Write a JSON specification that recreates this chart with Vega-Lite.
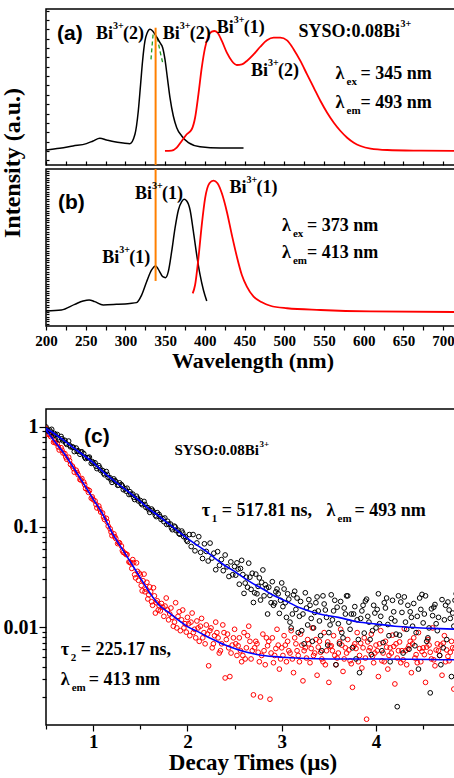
{
"$schema": "https://vega.github.io/schema/vega-lite/v6.json",
"padding": {"left": 0, "top": 8, "right": -2, "bottom": 0},
"background": "white",
"config": {
  "view": {"stroke": "black", "strokeWidth": 1.5},
  "axis": {"grid": false, "domain": false, "tickColor": "black", "tickWidth": 1.2, "labelColor": "black", "titleColor": "black", "labelFont": "Liberation Serif", "labelFontWeight": "bold", "titleFont": "Liberation Serif", "titleFontWeight": "bold", "labelOverlap": false, "labelFlush": false, "labelBound": false}
},
"datasets": {
"aEx": [{"x":200,"y":9.6},{"x":217.2,"y":10.7},{"x":234.1,"y":12.2},{"x":250.9,"y":13.7},{"x":259.3,"y":15.4},{"x":267.8,"y":17.1},{"x":276.2,"y":16},{"x":284.6,"y":15},{"x":297.2,"y":14.1},{"x":305.6,"y":13.7},{"x":312,"y":19.7},{"x":316.2,"y":34.6},{"x":319.1,"y":51.7},{"x":321.6,"y":66.7},{"x":324.6,"y":79.5},{"x":327.5,"y":84.8},{"x":330.9,"y":87},{"x":334.3,"y":85.9},{"x":338.5,"y":82.7},{"x":343.5,"y":78.4},{"x":346.9,"y":75.2},{"x":349.8,"y":67.7},{"x":352.8,"y":56},{"x":356.1,"y":43.2},{"x":360.3,"y":31.4},{"x":364.6,"y":23.9},{"x":370.9,"y":18.6},{"x":379.3,"y":14.3},{"x":394,"y":11.7},{"x":419.3,"y":10.9},{"x":448.7,"y":10.9}],
"aEm": [{"x":349.8,"y":9},{"x":358.2,"y":9.2},{"x":364.6,"y":11.1},{"x":370.9,"y":15.4},{"x":377.2,"y":19.7},{"x":383.5,"y":22.9},{"x":387.7,"y":30.3},{"x":391.9,"y":45.3},{"x":396.1,"y":62.4},{"x":400.3,"y":75.2},{"x":404.5,"y":82.7},{"x":408.7,"y":85.5},{"x":412.1,"y":85.9},{"x":415.9,"y":84.8},{"x":421.4,"y":79.5},{"x":427.7,"y":72},{"x":434,"y":66.7},{"x":440.3,"y":64.1},{"x":446.6,"y":64.5},{"x":452.9,"y":66.7},{"x":461.4,"y":70.9},{"x":469.8,"y":75.8},{"x":478.2,"y":79.9},{"x":486.6,"y":81.6},{"x":495,"y":81.6},{"x":503.5,"y":79.9},{"x":511.9,"y":74.1},{"x":520.3,"y":66.7},{"x":528.7,"y":58.1},{"x":537.1,"y":49.6},{"x":545.6,"y":41},{"x":554,"y":33.5},{"x":562.4,"y":27.1},{"x":570.8,"y":21.8},{"x":579.2,"y":17.5},{"x":587.6,"y":14.3},{"x":596,"y":12.2},{"x":608.6,"y":10.5},{"x":629.7,"y":9.6},{"x":671.7,"y":9.2},{"x":720,"y":9}],
"aG": [{"x":332.2,"y":67.7,"s":"g1"},{"x":333.5,"y":76,"s":"g1"},{"x":335,"y":84.8,"s":"g1"},{"x":340.2,"y":81.6,"s":"g2"},{"x":343.5,"y":73,"s":"g2"},{"x":346.9,"y":65.6,"s":"g2"}],
"aR": [{"x":338,"y":88,"y2":0}],
"bR": [{"x":338,"y":100,"y2":28.7}],
"bEx": [{"x":200,"y":9.55},{"x":219.4,"y":10.2},{"x":236.2,"y":13.8},{"x":246.7,"y":15.9},{"x":254.3,"y":16.6},{"x":261.4,"y":15.5},{"x":272,"y":13.4},{"x":288.8,"y":13.8},{"x":305.6,"y":14.4},{"x":314,"y":14.9},{"x":320.4,"y":19.7},{"x":326.7,"y":28.2},{"x":333,"y":35.7},{"x":338,"y":38.2},{"x":342.7,"y":35},{"x":346.9,"y":31.4},{"x":350.6,"y":30.8},{"x":354,"y":34.6},{"x":358.2,"y":47.3},{"x":362.4,"y":62.2},{"x":366.7,"y":73.9},{"x":370.9,"y":79.2},{"x":373.8,"y":80.7},{"x":377.2,"y":79.6},{"x":381.4,"y":73.9},{"x":385.6,"y":60.1},{"x":389.8,"y":45.2},{"x":394,"y":32.5},{"x":398.2,"y":22.9},{"x":402.4,"y":15.9}],
"bEm": [{"x":384.7,"y":20.8},{"x":387.7,"y":26.1},{"x":391.9,"y":43.1},{"x":396.1,"y":64.3},{"x":400.3,"y":81.3},{"x":405.8,"y":90.9},{"x":410.8,"y":92.6},{"x":415.9,"y":90.9},{"x":421.4,"y":84.5},{"x":427.7,"y":72.8},{"x":434,"y":58},{"x":440.3,"y":44.2},{"x":446.6,"y":32.5},{"x":452.9,"y":25.1},{"x":461.4,"y":18.7},{"x":471.9,"y":15.1},{"x":482.4,"y":12.9},{"x":503.5,"y":11.3},{"x":545.6,"y":10.2},{"x":608.6,"y":9.3},{"x":720,"y":8.9}],
"aT": [{"k":"p","x":214,"y":80,"a":"(a)"},{"k":"bi","x":263,"y":80.8,"a":"Bi","b":"3+","c":"(2)"},{"k":"bi","x":347,"y":80.6,"a":"Bi","b":"3+","c":"(2)"},{"k":"bi","x":415,"y":84.4,"a":"Bi","b":"3+","c":"(1)"},{"k":"bi","x":458,"y":57,"a":"Bi","b":"3+","c":"(2)"},{"k":"sy","x":518,"y":82,"a":"SYSO:0.08Bi","b":"3+"},{"k":"la","x":564.5,"y":54.9,"a":"λ","b":"ex","c":"= 345 nm"},{"k":"la","x":564.5,"y":36.7,"a":"λ","b":"em","c":"= 493 nm"}],
"bT": [{"k":"p","x":215,"y":74.3,"a":"(b)"},{"k":"bi","x":312,"y":80.9,"a":"Bi","b":"3+","c":"(1)"},{"k":"bi","x":270.7,"y":40.1,"a":"Bi","b":"3+","c":"(1)"},{"k":"bi","x":431,"y":84.7,"a":"Bi","b":"3+","c":"(1)"},{"k":"la","x":497,"y":60.5,"a":"λ","b":"ex","c":"= 373 nm"},{"k":"la","x":497,"y":43.3,"a":"λ","b":"em","c":"= 413 nm"}],
"cT": [{"k":"p","x":0.904,"y":0.687,"a":"(c)"},{"k":"sy","x":1.862,"y":0.525,"a":"SYSO:0.08Bi","b":"3+"},{"k":"ta","x":2.152,"y":0.1288,"a":"τ","b":"1","c":"= 517.81 ns,"},{"k":"la","x":3.475,"y":0.1288,"a":"λ","b":"em","c":"= 493 nm"},{"k":"ta","x":0.656,"y":0.00525,"a":"τ","b":"2","c":"= 225.17 ns,"},{"k":"la","x":0.656,"y":0.00263,"a":"λ","b":"em","c":"= 413 nm"}],
"cFit": [{"s":"b","x":0.5,"y":0.97},{"s":"b","x":0.6,"y":0.84},{"s":"b","x":0.7,"y":0.72},{"s":"b","x":0.8,"y":0.61},{"s":"b","x":0.9,"y":0.52},{"s":"b","x":1.0,"y":0.44},{"s":"b","x":1.1,"y":0.36},{"s":"b","x":1.2,"y":0.3},{"s":"b","x":1.3,"y":0.255},{"s":"b","x":1.4,"y":0.215},{"s":"b","x":1.5,"y":0.18},{"s":"b","x":1.6,"y":0.15},{"s":"b","x":1.7,"y":0.128},{"s":"b","x":1.8,"y":0.108},{"s":"b","x":1.9,"y":0.091},{"s":"b","x":2.0,"y":0.077},{"s":"b","x":2.1,"y":0.066},{"s":"b","x":2.2,"y":0.057},{"s":"b","x":2.3,"y":0.048},{"s":"b","x":2.4,"y":0.041},{"s":"b","x":2.5,"y":0.036},{"s":"b","x":2.6,"y":0.031},{"s":"b","x":2.7,"y":0.027},{"s":"b","x":2.8,"y":0.024},{"s":"b","x":2.9,"y":0.021},{"s":"b","x":3.0,"y":0.019},{"s":"b","x":3.2,"y":0.0155},{"s":"b","x":3.4,"y":0.0135},{"s":"b","x":3.6,"y":0.0125},{"s":"b","x":3.8,"y":0.0113},{"s":"b","x":4.0,"y":0.0107},{"s":"b","x":4.2,"y":0.0102},{"s":"b","x":4.4,"y":0.0099},{"s":"b","x":4.6,"y":0.0097},{"s":"b","x":4.88,"y":0.0095},
{"s":"r","x":0.5,"y":0.93},{"s":"r","x":0.6,"y":0.7},{"s":"r","x":0.7,"y":0.53},{"s":"r","x":0.8,"y":0.38},{"s":"r","x":0.9,"y":0.27},{"s":"r","x":1.0,"y":0.19},{"s":"r","x":1.1,"y":0.135},{"s":"r","x":1.2,"y":0.088},{"s":"r","x":1.3,"y":0.062},{"s":"r","x":1.4,"y":0.044},{"s":"r","x":1.5,"y":0.031},{"s":"r","x":1.6,"y":0.022},{"s":"r","x":1.7,"y":0.0165},{"s":"r","x":1.8,"y":0.014},{"s":"r","x":1.9,"y":0.0118},{"s":"r","x":2.0,"y":0.0101},{"s":"r","x":2.1,"y":0.0091},{"s":"r","x":2.2,"y":0.0081},{"s":"r","x":2.3,"y":0.0073},{"s":"r","x":2.4,"y":0.0066},{"s":"r","x":2.5,"y":0.0061},{"s":"r","x":2.6,"y":0.0057},{"s":"r","x":2.7,"y":0.0054},{"s":"r","x":2.8,"y":0.0052},{"s":"r","x":3.0,"y":0.005},{"s":"r","x":3.5,"y":0.0048},{"s":"r","x":4.0,"y":0.0048},{"s":"r","x":4.88,"y":0.0047}],
"cB": [{"x":0.5,"y":1.0},{"x":0.52,"y":0.907},{"x":0.54,"y":0.929},{"x":0.56,"y":0.946},{"x":0.58,"y":0.822},{"x":0.6,"y":0.832},{"x":0.62,"y":0.839},{"x":0.64,"y":0.743},{"x":0.66,"y":0.803},{"x":0.68,"y":0.727},{"x":0.7,"y":0.734},{"x":0.72,"y":0.669},{"x":0.74,"y":0.722},{"x":0.76,"y":0.632},{"x":0.78,"y":0.63},{"x":0.8,"y":0.567},{"x":0.82,"y":0.614},{"x":0.84,"y":0.578},{"x":0.86,"y":0.533},{"x":0.88,"y":0.564},{"x":0.9,"y":0.541},{"x":0.92,"y":0.483},{"x":0.94,"y":0.492},{"x":0.96,"y":0.499},{"x":0.98,"y":0.432},{"x":1.0,"y":0.436},{"x":1.02,"y":0.438},{"x":1.04,"y":0.383},{"x":1.06,"y":0.41},{"x":1.08,"y":0.368},{"x":1.1,"y":0.367},{"x":1.12,"y":0.333},{"x":1.14,"y":0.358},{"x":1.16,"y":0.312},{"x":1.18,"y":0.31},{"x":1.2,"y":0.279},{"x":1.22,"y":0.302},{"x":1.24,"y":0.284},{"x":1.26,"y":0.261},{"x":1.28,"y":0.276},{"x":1.3,"y":0.265},{"x":1.32,"y":0.236},{"x":1.34,"y":0.24},{"x":1.36,"y":0.244},{"x":1.38,"y":0.211},{"x":1.4,"y":0.213},{"x":1.42,"y":0.213},{"x":1.44,"y":0.188},{"x":1.46,"y":0.203},{"x":1.48,"y":0.182},{"x":1.5,"y":0.184},{"x":1.52,"y":0.167},{"x":1.54,"y":0.18},{"x":1.56,"y":0.157},{"x":1.58,"y":0.156},{"x":1.6,"y":0.14},{"x":1.62,"y":0.151},{"x":1.64,"y":0.141},{"x":1.66,"y":0.131},{"x":1.68,"y":0.139},{"x":1.7,"y":0.133},{"x":1.72,"y":0.119},{"x":1.74,"y":0.121},{"x":1.76,"y":0.123},{"x":1.78,"y":0.106},{"x":1.8,"y":0.107},{"x":1.82,"y":0.107},{"x":1.84,"y":0.094},{"x":1.86,"y":0.102},{"x":1.88,"y":0.092},{"x":1.9,"y":0.093},{"x":1.92,"y":0.0845},{"x":1.94,"y":0.091},{"x":1.96,"y":0.08},{"x":1.98,"y":0.08},{"x":2.0,"y":0.0716},{"x":2.02,"y":0.084},{"x":2.04,"y":0.0638},{"x":2.06,"y":0.084},{"x":2.08,"y":0.0578},{"x":2.1,"y":0.0693},{"x":2.12,"y":0.08},{"x":2.14,"y":0.0558},{"x":2.16,"y":0.0484},{"x":2.18,"y":0.0679},{"x":2.2,"y":0.057},{"x":2.22,"y":0.0457},{"x":2.24,"y":0.069},{"x":2.26,"y":0.0489},{"x":2.28,"y":0.0547},{"x":2.3,"y":0.0374},{"x":2.32,"y":0.0567},{"x":2.34,"y":0.0414},{"x":2.36,"y":0.0472},{"x":2.38,"y":0.0366},{"x":2.4,"y":0.0525},{"x":2.42,"y":0.04},{"x":2.44,"y":0.032},{"x":2.46,"y":0.0448},{"x":2.48,"y":0.0333},{"x":2.5,"y":0.0403},
{"x":0.51,"y":0.93},{"x":0.55,"y":0.89},{"x":0.59,"y":0.86},{"x":0.63,"y":0.78},{"x":0.67,"y":0.76},{"x":0.71,"y":0.69},{"x":0.75,"y":0.655},{"x":0.79,"y":0.625},{"x":0.83,"y":0.57},{"x":0.87,"y":0.56},{"x":0.91,"y":0.5},{"x":0.95,"y":0.49},{"x":0.99,"y":0.45},{"x":1.03,"y":0.405},{"x":1.07,"y":0.39},{"x":1.11,"y":0.345},{"x":1.15,"y":0.335},{"x":1.19,"y":0.296},{"x":1.23,"y":0.29},{"x":1.27,"y":0.262},{"x":1.31,"y":0.256},{"x":1.35,"y":0.228},{"x":1.39,"y":0.225},{"x":1.43,"y":0.198},{"x":1.47,"y":0.193},{"x":1.51,"y":0.172},{"x":1.55,"y":0.168},{"x":1.59,"y":0.149},{"x":1.63,"y":0.146},{"x":1.67,"y":0.127},{"x":1.71,"y":0.127},{"x":1.75,"y":0.113},{"x":1.79,"y":0.114},{"x":1.83,"y":0.098},{"x":1.87,"y":0.1},{"x":1.91,"y":0.086},{"x":1.95,"y":0.087},{"x":1.99,"y":0.074},
{"x":2.525,"y":0.0438},{"x":2.55,"y":0.0268},{"x":2.575,"y":0.0464},{"x":2.6,"y":0.0217},{"x":2.625,"y":0.0315},{"x":2.65,"y":0.0435},{"x":2.675,"y":0.0238},{"x":2.7,"y":0.0176},{"x":2.725,"y":0.0338},{"x":2.75,"y":0.0255},{"x":2.775,"y":0.0186},{"x":2.8,"y":0.0372},{"x":2.825,"y":0.0265},{"x":2.85,"y":0.0135},{"x":2.875,"y":0.0207},{"x":2.9,"y":0.0284},{"x":2.925,"y":0.0174},{"x":2.95,"y":0.024},{"x":2.975,"y":0.0137},{"x":3.0,"y":0.0276},
{"x":2.5125,"y":0.033},{"x":2.5625,"y":0.0385},{"x":2.6125,"y":0.0275},{"x":2.6625,"y":0.0315},{"x":2.7125,"y":0.022},{"x":2.7625,"y":0.031},{"x":2.8125,"y":0.0205},{"x":2.8625,"y":0.025},{"x":2.9125,"y":0.0165},{"x":2.9625,"y":0.0215},
{"x":2.5375,"y":0.038},{"x":2.5875,"y":0.0335},{"x":2.6375,"y":0.025},{"x":2.6875,"y":0.0345},{"x":2.7375,"y":0.0215},{"x":2.7875,"y":0.028},{"x":2.8375,"y":0.0245},{"x":2.8875,"y":0.0175},{"x":2.9375,"y":0.0225},{"x":2.9875,"y":0.0185},
{"x":3.025,"y":0.024},{"x":3.05,"y":0.0125},{"x":3.075,"y":0.019},{"x":3.1,"y":0.0098},{"x":3.125,"y":0.021},{"x":3.15,"y":0.015},{"x":3.175,"y":0.0088},{"x":3.2,"y":0.018},{"x":3.225,"y":0.0135},{"x":3.25,"y":0.022},{"x":3.275,"y":0.0105},{"x":3.3,"y":0.0165},{"x":3.325,"y":0.0072},{"x":3.35,"y":0.014},{"x":3.375,"y":0.02},{"x":3.4,"y":0.0115},{"x":3.425,"y":0.0058},{"x":3.45,"y":0.017},{"x":3.475,"y":0.0125},{"x":3.5,"y":0.0088},{"x":3.525,"y":0.021},{"x":3.55,"y":0.0145},{"x":3.575,"y":0.0042},{"x":3.6,"y":0.0108},{"x":3.625,"y":0.018},{"x":3.65,"y":0.0078},{"x":3.675,"y":0.0135},{"x":3.7,"y":0.0205},{"x":3.725,"y":0.0095},{"x":3.75,"y":0.0062},{"x":3.775,"y":0.016},{"x":3.8,"y":0.0118},{"x":3.825,"y":0.0035},{"x":3.85,"y":0.0145},{"x":3.875,"y":0.0087},{"x":3.9,"y":0.019},{"x":3.925,"y":0.0112},{"x":3.95,"y":0.0053},{"x":3.975,"y":0.0165},{"x":4.0,"y":0.0098},{"x":4.025,"y":0.0215},{"x":4.05,"y":0.0128},{"x":4.075,"y":0.007},{"x":4.1,"y":0.0155},{"x":4.125,"y":0.0106},{"x":4.15,"y":0.0045},{"x":4.175,"y":0.0185},{"x":4.2,"y":0.0115},{"x":4.225,"y":0.0016},{"x":4.25,"y":0.0083},{"x":4.275,"y":0.014},{"x":4.3,"y":0.02},{"x":4.325,"y":0.0095},{"x":4.35,"y":0.006},{"x":4.375,"y":0.0125},{"x":4.4,"y":0.0172},{"x":4.425,"y":0.0088},{"x":4.45,"y":0.0038},{"x":4.475,"y":0.015},{"x":4.5,"y":0.011},{"x":4.525,"y":0.0205},{"x":4.55,"y":0.0078},{"x":4.575,"y":0.0022},{"x":4.6,"y":0.013},{"x":4.625,"y":0.0168},{"x":4.65,"y":0.0092},{"x":4.675,"y":0.0052},{"x":4.7,"y":0.0188},{"x":4.725,"y":0.0118},{"x":4.75,"y":0.0075},{"x":4.775,"y":0.0148},{"x":4.8,"y":0.0032},{"x":4.825,"y":0.0102},{"x":4.85,"y":0.0215},{"x":4.875,"y":0.0085},
{"x":3.0125,"y":0.016},{"x":3.0625,"y":0.0215},{"x":3.1125,"y":0.0135},{"x":3.1625,"y":0.0195},{"x":3.2125,"y":0.0092},{"x":3.2625,"y":0.0155},{"x":3.3125,"y":0.0122},{"x":3.3625,"y":0.0175},{"x":3.4125,"y":0.0082},{"x":3.4625,"y":0.0148},{"x":3.5125,"y":0.0105},{"x":3.5625,"y":0.0185},{"x":3.6125,"y":0.0068},{"x":3.6625,"y":0.0155},{"x":3.7125,"y":0.0112},{"x":3.7625,"y":0.0135},{"x":3.8125,"y":0.0075},{"x":3.8625,"y":0.0165},{"x":3.9125,"y":0.0128},{"x":3.9625,"y":0.0092},{"x":4.0125,"y":0.015},{"x":4.0625,"y":0.0058},{"x":4.1125,"y":0.0195},{"x":4.1625,"y":0.0122},{"x":4.2125,"y":0.0085},{"x":4.2625,"y":0.0178},{"x":4.3125,"y":0.0112},{"x":4.3625,"y":0.0142},{"x":4.4125,"y":0.0065},{"x":4.4625,"y":0.0195},{"x":4.5125,"y":0.0135},{"x":4.5625,"y":0.0098},{"x":4.6125,"y":0.0158},{"x":4.6625,"y":0.0125},{"x":4.7125,"y":0.0062},{"x":4.7625,"y":0.0178},{"x":4.8125,"y":0.0138},{"x":4.8625,"y":0.0118},
{"x":3.0375,"y":0.0175},{"x":3.0875,"y":0.0112},{"x":3.1375,"y":0.0228},{"x":3.1875,"y":0.0128},{"x":3.2375,"y":0.0068},{"x":3.2875,"y":0.0188},{"x":3.3375,"y":0.0098},{"x":3.3875,"y":0.0145},{"x":3.4375,"y":0.0205},{"x":3.4875,"y":0.0066},{"x":3.5375,"y":0.0118},{"x":3.5875,"y":0.0158},{"x":3.6375,"y":0.0088},{"x":3.6875,"y":0.0205},{"x":3.7375,"y":0.0135},{"x":3.7875,"y":0.0048},{"x":3.8375,"y":0.0122},{"x":3.8875,"y":0.0182},{"x":3.9375,"y":0.0075},{"x":3.9875,"y":0.0138},{"x":4.0375,"y":0.0108},{"x":4.0875,"y":0.0175},{"x":4.1375,"y":0.0082},{"x":4.1875,"y":0.0142},{"x":4.2375,"y":0.0205},{"x":4.2875,"y":0.0055},{"x":4.3375,"y":0.0165},{"x":4.3875,"y":0.0102},{"x":4.4375,"y":0.0128},{"x":4.4875,"y":0.0212},{"x":4.5375,"y":0.0072},{"x":4.5875,"y":0.0152},{"x":4.6375,"y":0.0108},{"x":4.6875,"y":0.0042},{"x":4.7375,"y":0.0165},{"x":4.7875,"y":0.0122},{"x":4.8375,"y":0.0185},{"x":4.8675,"y":0.0072}],
"cR": [{"x":0.5,"y":0.967},{"x":0.52,"y":0.845},{"x":0.54,"y":0.838},{"x":0.56,"y":0.832},{"x":0.58,"y":0.703},{"x":0.6,"y":0.693},{"x":0.62,"y":0.68},{"x":0.64,"y":0.588},{"x":0.66,"y":0.62},{"x":0.68,"y":0.549},{"x":0.7,"y":0.541},{"x":0.72,"y":0.475},{"x":0.74,"y":0.498},{"x":0.76,"y":0.422},{"x":0.78,"y":0.405},{"x":0.8,"y":0.353},{"x":0.82,"y":0.369},{"x":0.84,"y":0.333},{"x":0.86,"y":0.298},{"x":0.88,"y":0.305},{"x":0.9,"y":0.281},{"x":0.92,"y":0.242},{"x":0.94,"y":0.237},{"x":0.96,"y":0.231},{"x":0.98,"y":0.194},{"x":1.0,"y":0.188},{"x":1.02,"y":0.182},{"x":1.04,"y":0.155},{"x":1.06,"y":0.162},{"x":1.08,"y":0.141},{"x":1.1,"y":0.138},{"x":1.12,"y":0.119},{"x":1.14,"y":0.122},{"x":1.16,"y":0.102},{"x":1.18,"y":0.096},{"x":1.2,"y":0.0818},{"x":1.22,"y":0.0853},{"x":1.24,"y":0.0768},{"x":1.26,"y":0.0682},{"x":1.28,"y":0.0693},{"x":1.3,"y":0.0645},{"x":1.32,"y":0.0557},{"x":1.34,"y":0.0545},{"x":1.36,"y":0.053},{"x":1.38,"y":0.0447},{"x":1.4,"y":0.0436},
{"x":1.42,"y":0.0472},{"x":1.44,"y":0.0334},{"x":1.46,"y":0.0438},{"x":1.48,"y":0.0293},{"x":1.5,"y":0.033},{"x":1.52,"y":0.023},{"x":1.54,"y":0.0338},{"x":1.56,"y":0.024},{"x":1.58,"y":0.0191},{"x":1.6,"y":0.0252},{"x":1.62,"y":0.0179},{"x":1.64,"y":0.0247},{"x":1.66,"y":0.0138},{"x":1.68,"y":0.0183},{"x":1.7,"y":0.0163},
{"x":0.51,"y":0.9},{"x":0.55,"y":0.8},{"x":0.59,"y":0.725},{"x":0.63,"y":0.63},{"x":0.67,"y":0.585},{"x":0.71,"y":0.5},{"x":0.75,"y":0.46},{"x":0.79,"y":0.385},{"x":0.83,"y":0.35},{"x":0.87,"y":0.295},{"x":0.91,"y":0.265},{"x":0.95,"y":0.222},{"x":0.99,"y":0.2},{"x":1.03,"y":0.168},{"x":1.07,"y":0.151},{"x":1.11,"y":0.126},{"x":1.15,"y":0.112},{"x":1.19,"y":0.089},{"x":1.23,"y":0.08},{"x":1.27,"y":0.07},{"x":1.31,"y":0.058},{"x":1.35,"y":0.053},{"x":1.39,"y":0.0445},
{"x":1.41,"y":0.0385},{"x":1.43,"y":0.044},{"x":1.45,"y":0.031},{"x":1.47,"y":0.036},{"x":1.49,"y":0.0345},{"x":1.51,"y":0.026},{"x":1.53,"y":0.029},{"x":1.55,"y":0.0225},{"x":1.57,"y":0.028},{"x":1.59,"y":0.021},{"x":1.61,"y":0.0225},{"x":1.63,"y":0.0165},{"x":1.65,"y":0.0205},{"x":1.67,"y":0.0175},{"x":1.69,"y":0.0148},
{"x":1.725,"y":0.0172},{"x":1.75,"y":0.0128},{"x":1.775,"y":0.0195},{"x":1.8,"y":0.0118},{"x":1.825,"y":0.0155},{"x":1.85,"y":0.0102},{"x":1.875,"y":0.0175},{"x":1.9,"y":0.0128},{"x":1.925,"y":0.0092},{"x":1.95,"y":0.0148},{"x":1.975,"y":0.0108},{"x":2.0,"y":0.0125},{"x":2.025,"y":0.0082},{"x":2.05,"y":0.0138},{"x":2.075,"y":0.0095},{"x":2.1,"y":0.0115},{"x":2.125,"y":0.0072},{"x":2.15,"y":0.0122},{"x":2.175,"y":0.0088},{"x":2.2,"y":0.0105},{"x":2.225,"y":0.0041},{"x":2.25,"y":0.0098},{"x":2.275,"y":0.0068},{"x":2.3,"y":0.0112},{"x":2.325,"y":0.0078},{"x":2.35,"y":0.0058},{"x":2.375,"y":0.0105},{"x":2.4,"y":0.0031},{"x":2.425,"y":0.0085},{"x":2.45,"y":0.0032},{"x":2.475,"y":0.0066},{"x":2.5,"y":0.0095},{"x":2.525,"y":0.0052},{"x":2.55,"y":0.0078},{"x":2.575,"y":0.0045},{"x":2.6,"y":0.0088},{"x":2.625,"y":0.0062},{"x":2.65,"y":0.0102},{"x":2.675,"y":0.0048},{"x":2.7,"y":0.0021},{"x":2.725,"y":0.0072},{"x":2.75,"y":0.0056},{"x":2.775,"y":0.002},{"x":2.8,"y":0.0085},{"x":2.825,"y":0.0042},{"x":2.85,"y":0.0065},{"x":2.875,"y":0.0019},{"x":2.9,"y":0.0078},{"x":2.925,"y":0.0052},{"x":2.95,"y":0.0095},{"x":2.975,"y":0.0038},{"x":3.0,"y":0.0062},{"x":3.025,"y":0.0082},{"x":3.05,"y":0.0045},{"x":3.075,"y":0.0058},{"x":3.1,"y":0.0092},{"x":3.125,"y":0.0035},{"x":3.15,"y":0.0068},{"x":3.175,"y":0.0052},{"x":3.2,"y":0.0085},{"x":3.225,"y":0.0029},{"x":3.25,"y":0.0062},{"x":3.275,"y":0.0075},{"x":3.3,"y":0.0044},{"x":3.325,"y":0.0098},{"x":3.35,"y":0.0055},{"x":3.375,"y":0.0033},{"x":3.4,"y":0.0072},{"x":3.425,"y":0.0048},{"x":3.45,"y":0.0088},{"x":3.475,"y":0.0058},{"x":3.5,"y":0.0028},{"x":3.525,"y":0.0065},{"x":3.55,"y":0.0082},{"x":3.575,"y":0.0042},{"x":3.6,"y":0.0055},{"x":3.625,"y":0.0095},{"x":3.65,"y":0.0036},{"x":3.675,"y":0.0062},{"x":3.7,"y":0.0075},{"x":3.725,"y":0.0046},{"x":3.75,"y":0.0025},{"x":3.775,"y":0.0068},{"x":3.8,"y":0.0088},{"x":3.825,"y":0.0052},{"x":3.85,"y":0.0039},{"x":3.875,"y":0.0078},{"x":3.9,"y":0.0012},{"x":3.925,"y":0.0058},{"x":3.95,"y":0.0085},{"x":3.975,"y":0.0044},{"x":4.0,"y":0.0066},{"x":4.025,"y":0.0032},{"x":4.05,"y":0.0092},{"x":4.075,"y":0.0055},{"x":4.1,"y":0.0072},{"x":4.125,"y":0.0038},{"x":4.15,"y":0.0062},{"x":4.175,"y":0.0083},{"x":4.2,"y":0.0027},{"x":4.225,"y":0.0049},{"x":4.25,"y":0.0071},{"x":4.275,"y":0.0058},{"x":4.3,"y":0.0096},{"x":4.325,"y":0.0042},{"x":4.35,"y":0.0065},{"x":4.375,"y":0.0035},{"x":4.4,"y":0.0078},{"x":4.425,"y":0.0053},{"x":4.45,"y":0.0088},{"x":4.475,"y":0.0045},{"x":4.5,"y":0.0062},{"x":4.525,"y":0.0028},{"x":4.55,"y":0.0075},{"x":4.575,"y":0.0056},{"x":4.6,"y":0.0098},{"x":4.625,"y":0.0041},{"x":4.65,"y":0.0068},{"x":4.675,"y":0.0052},{"x":4.7,"y":0.0033},{"x":4.725,"y":0.0082},{"x":4.75,"y":0.0059},{"x":4.775,"y":0.0046},{"x":4.8,"y":0.0072},{"x":4.825,"y":0.0024},{"x":4.85,"y":0.0064},{"x":4.875,"y":0.0055},
{"x":1.7125,"y":0.0145},{"x":1.7625,"y":0.0162},{"x":1.8125,"y":0.0135},{"x":1.8625,"y":0.0112},{"x":1.9125,"y":0.0142},{"x":1.9625,"y":0.0098},{"x":2.0125,"y":0.0108},{"x":2.0625,"y":0.0088},{"x":2.1125,"y":0.0098},{"x":2.1625,"y":0.0078},{"x":2.2125,"y":0.0085},{"x":2.2625,"y":0.0062},{"x":2.3125,"y":0.0088},{"x":2.3625,"y":0.0068},{"x":2.4125,"y":0.0075},{"x":2.4625,"y":0.0055},{"x":2.5125,"y":0.0068},{"x":2.5625,"y":0.0058},{"x":2.6125,"y":0.0048},{"x":2.6625,"y":0.0072},{"x":2.7125,"y":0.0062},{"x":2.7625,"y":0.0045},{"x":2.8125,"y":0.0058},{"x":2.8625,"y":0.0072},{"x":2.9125,"y":0.0044},{"x":2.9625,"y":0.0066},{"x":3.0125,"y":0.0052},{"x":3.0625,"y":0.0072},{"x":3.1125,"y":0.0048},{"x":3.1625,"y":0.0058},{"x":3.2125,"y":0.0066},{"x":3.2625,"y":0.0049},{"x":3.3125,"y":0.0061},{"x":3.3625,"y":0.0075},{"x":3.4125,"y":0.0056},{"x":3.4625,"y":0.0042},{"x":3.5125,"y":0.0064},{"x":3.5625,"y":0.0052},{"x":3.6125,"y":0.0071},{"x":3.6625,"y":0.0048},{"x":3.7125,"y":0.0059},{"x":3.7625,"y":0.0064},{"x":3.8125,"y":0.0045},{"x":3.8625,"y":0.0062},{"x":3.9125,"y":0.0071},{"x":3.9625,"y":0.0051},{"x":4.0125,"y":0.0058},{"x":4.0625,"y":0.0046},{"x":4.1125,"y":0.0063},{"x":4.1625,"y":0.0055},{"x":4.2125,"y":0.0068},{"x":4.2625,"y":0.0044},{"x":4.3125,"y":0.0058},{"x":4.3625,"y":0.0072},{"x":4.4125,"y":0.0049},{"x":4.4625,"y":0.0061},{"x":4.5125,"y":0.0053},{"x":4.5625,"y":0.0066},{"x":4.6125,"y":0.0047},{"x":4.6625,"y":0.0058},{"x":4.7125,"y":0.0069},{"x":4.7625,"y":0.0051},{"x":4.8125,"y":0.0062},{"x":4.8625,"y":0.0047},
{"x":1.7375,"y":0.0158},{"x":1.7875,"y":0.0148},{"x":1.8375,"y":0.0125},{"x":1.8875,"y":0.0098},{"x":1.9375,"y":0.0118},{"x":1.9875,"y":0.0089},{"x":2.0375,"y":0.0112},{"x":2.0875,"y":0.0078},{"x":2.1375,"y":0.0102},{"x":2.1875,"y":0.0068},{"x":2.2375,"y":0.0092},{"x":2.2875,"y":0.0082},{"x":2.3375,"y":0.0055},{"x":2.3875,"y":0.0088},{"x":2.4375,"y":0.0062},{"x":2.4875,"y":0.0078},{"x":2.5375,"y":0.0065},{"x":2.5875,"y":0.0052},{"x":2.6375,"y":0.0082},{"x":2.6875,"y":0.0058},{"x":2.7375,"y":0.0068},{"x":2.7875,"y":0.0052},{"x":2.8375,"y":0.0078},{"x":2.8875,"y":0.0055},{"x":2.9375,"y":0.0061},{"x":2.9875,"y":0.0048},{"x":3.0375,"y":0.0066},{"x":3.0875,"y":0.0055},{"x":3.1375,"y":0.0078},{"x":3.1875,"y":0.0045},{"x":3.2375,"y":0.0058},{"x":3.2875,"y":0.0068},{"x":3.3375,"y":0.0052},{"x":3.3875,"y":0.0063},{"x":3.4375,"y":0.0045},{"x":3.4875,"y":0.0071},{"x":3.5375,"y":0.0058},{"x":3.5875,"y":0.0049},{"x":3.6375,"y":0.0066},{"x":3.6875,"y":0.0055},{"x":3.7375,"y":0.0043},{"x":3.7875,"y":0.0061},{"x":3.8375,"y":0.0069},{"x":3.8875,"y":0.0049},{"x":3.9375,"y":0.0062},{"x":3.9875,"y":0.0055},{"x":4.0375,"y":0.0068},{"x":4.0875,"y":0.0045},{"x":4.1375,"y":0.0052},{"x":4.1875,"y":0.0064},{"x":4.2375,"y":0.0058},{"x":4.2875,"y":0.0047},{"x":4.3375,"y":0.0061},{"x":4.3875,"y":0.0068},{"x":4.4375,"y":0.0044},{"x":4.4875,"y":0.0057},{"x":4.5375,"y":0.0063},{"x":4.5875,"y":0.0048},{"x":4.6375,"y":0.0059},{"x":4.6875,"y":0.0066},{"x":4.7375,"y":0.0045},{"x":4.7875,"y":0.0056},{"x":4.8375,"y":0.0061}]
},
"spacing": 36,
"vconcat": [
{
  "title": {"text": "Intensity (a.u.)", "orient": "left", "anchor": "middle", "frame": "bounds", "font": "Liberation Serif", "fontWeight": "bold", "fontSize": 24, "color": "black", "offset": 9, "dx": 27},
  "spacing": 0,
  "vconcat": [
  {
    "width": 413, "height": 156,
    "encoding": {
      "x": {"field": "x", "type": "quantitative", "scale": {"domain": [200, 720], "nice": false, "zero": false}, "axis": {"values": [200,225,250,275,300,325,350,375,400,425,450,475,500,525,550,575,600,625,650,675,700], "labels": false, "tickSize": -4, "title": null}},
      "y": {"field": "y", "type": "quantitative", "scale": {"domain": [0, 100], "nice": false, "zero": false}, "axis": {"values": [3,9,15,21,27,33,39,45,51,57,63,69,75,81,87,93,99], "labels": false, "tickSize": -3, "title": null}}
    },
    "layer": [
      {"data": {"name": "aG"}, "mark": {"type": "line", "color": "#1f9a1f", "strokeDash": [4, 3], "strokeWidth": 1.3}, "encoding": {"detail": {"field": "s"}}},
      {"data": {"name": "aEx"}, "mark": {"type": "line", "color": "black", "strokeWidth": 1.5, "interpolate": "monotone"}, "encoding": {}},
      {"data": {"name": "aEm"}, "mark": {"type": "line", "color": "#ff0000", "strokeWidth": 1.8, "interpolate": "monotone"}, "encoding": {}},
      {"data": {"name": "aR"}, "mark": {"type": "rule", "color": "#ff8000", "strokeWidth": 2}, "encoding": {"y2": {"field": "y2"}}},
      {"data": {"name": "aT"}, "transform": [{"filter": "datum.k !== 'p'"}], "mark": {"type": "text", "align": "left", "baseline": "alphabetic", "font": "Liberation Serif", "fontWeight": "bold", "fontSize": 18, "color": "black"}, "encoding": {"text": {"field": "a"}}},
      {"data": {"name": "aT"}, "transform": [{"filter": "datum.k === 'p'"}], "mark": {"type": "text", "align": "left", "baseline": "alphabetic", "font": "Liberation Sans", "fontWeight": "bold", "fontSize": 21, "color": "black"}, "encoding": {"text": {"field": "a"}}},
      {"data": {"name": "aT"}, "transform": [{"filter": "datum.k === 'bi'"}], "mark": {"type": "text", "align": "left", "baseline": "alphabetic", "font": "Liberation Serif", "fontWeight": "bold", "fontSize": 10, "dx": 17, "dy": -10, "color": "black"}, "encoding": {"text": {"field": "b"}}},
      {"data": {"name": "aT"}, "transform": [{"filter": "datum.k === 'bi'"}], "mark": {"type": "text", "align": "left", "baseline": "alphabetic", "font": "Liberation Serif", "fontWeight": "bold", "fontSize": 18, "dx": 27, "color": "black"}, "encoding": {"text": {"field": "c"}}},
      {"data": {"name": "aT"}, "transform": [{"filter": "datum.k === 'sy'"}], "mark": {"type": "text", "align": "left", "baseline": "alphabetic", "font": "Liberation Serif", "fontWeight": "bold", "fontSize": 10, "dx": 102, "dy": -10, "color": "black"}, "encoding": {"text": {"field": "b"}}},
      {"data": {"name": "aT"}, "transform": [{"filter": "datum.k === 'la'"}], "mark": {"type": "text", "align": "left", "baseline": "alphabetic", "font": "Liberation Serif", "fontWeight": "bold", "fontSize": 11, "dx": 11, "dy": 6, "color": "black"}, "encoding": {"text": {"field": "b"}}},
      {"data": {"name": "aT"}, "transform": [{"filter": "datum.k === 'la'"}], "mark": {"type": "text", "align": "left", "baseline": "alphabetic", "font": "Liberation Serif", "fontWeight": "bold", "fontSize": 18, "dx": 25, "color": "black"}, "encoding": {"text": {"field": "c"}}}
    ]
  },
  {
    "width": 413, "height": 157,
    "encoding": {
      "x": {"field": "x", "type": "quantitative", "scale": {"domain": [200, 720], "nice": false, "zero": false}, "axis": {"values": [200,225,250,275,300,325,350,375,400,425,450,475,500,525,550,575,600,625,650,675,700], "labelExpr": "datum.value % 50 === 0 ? '' + datum.value : ''", "tickSize": 4, "labelFontSize": 15, "labelPadding": 3, "title": "Wavelength (nm)", "titleFontSize": 22, "titlePadding": 2}},
      "y": {"field": "y", "type": "quantitative", "scale": {"domain": [0, 100], "nice": false, "zero": false}, "axis": {"values": [1.5,3,4.5,6,7.5,9,10.5,12,13.5,15,16.5,18,19.5,21,22.5,24,25.5,27,28.5,30,31.5,33,34.5,36,37.5,39,40.5,42,43.5,45,46.5,48,49.5,51,52.5,54,55.5,57,58.5,60,61.5,63,64.5,66,67.5,69,70.5,72,73.5,75,76.5,78,79.5,81,82.5,84,85.5,87,88.5,90,91.5,93,94.5,96,97.5,99], "labels": false, "tickSize": -3, "title": null}}
    },
    "layer": [
      {"data": {"name": "bEx"}, "mark": {"type": "line", "color": "black", "strokeWidth": 1.5, "interpolate": "monotone"}, "encoding": {}},
      {"data": {"name": "bEm"}, "mark": {"type": "line", "color": "#ff0000", "strokeWidth": 1.8, "interpolate": "monotone"}, "encoding": {}},
      {"data": {"name": "bR"}, "mark": {"type": "rule", "color": "#ff8000", "strokeWidth": 2}, "encoding": {"y2": {"field": "y2"}}},
      {"data": {"name": "bT"}, "transform": [{"filter": "datum.k !== 'p'"}], "mark": {"type": "text", "align": "left", "baseline": "alphabetic", "font": "Liberation Serif", "fontWeight": "bold", "fontSize": 18, "color": "black"}, "encoding": {"text": {"field": "a"}}},
      {"data": {"name": "bT"}, "transform": [{"filter": "datum.k === 'p'"}], "mark": {"type": "text", "align": "left", "baseline": "alphabetic", "font": "Liberation Sans", "fontWeight": "bold", "fontSize": 21, "color": "black"}, "encoding": {"text": {"field": "a"}}},
      {"data": {"name": "bT"}, "transform": [{"filter": "datum.k === 'bi'"}], "mark": {"type": "text", "align": "left", "baseline": "alphabetic", "font": "Liberation Serif", "fontWeight": "bold", "fontSize": 10, "dx": 17, "dy": -10, "color": "black"}, "encoding": {"text": {"field": "b"}}},
      {"data": {"name": "bT"}, "transform": [{"filter": "datum.k === 'bi'"}], "mark": {"type": "text", "align": "left", "baseline": "alphabetic", "font": "Liberation Serif", "fontWeight": "bold", "fontSize": 18, "dx": 27, "color": "black"}, "encoding": {"text": {"field": "c"}}},
      {"data": {"name": "bT"}, "transform": [{"filter": "datum.k === 'la'"}], "mark": {"type": "text", "align": "left", "baseline": "alphabetic", "font": "Liberation Serif", "fontWeight": "bold", "fontSize": 11, "dx": 11, "dy": 6, "color": "black"}, "encoding": {"text": {"field": "b"}}},
      {"data": {"name": "bT"}, "transform": [{"filter": "datum.k === 'la'"}], "mark": {"type": "text", "align": "left", "baseline": "alphabetic", "font": "Liberation Serif", "fontWeight": "bold", "fontSize": 18, "dx": 25, "color": "black"}, "encoding": {"text": {"field": "c"}}}
    ]
  }
  ]
},
{
  "width": 413, "height": 316,
  "encoding": {
    "x": {"field": "x", "type": "quantitative", "scale": {"domain": [0.5, 4.88], "nice": false, "zero": false}, "axis": {"values": [0.5,1,1.5,2,2.5,3,3.5,4,4.5], "labelExpr": "datum.value % 1 === 0 ? '' + datum.value : ''", "tickSize": {"condition": {"test": "datum.value % 1 === 0", "value": 6}, "value": 4}, "labelFontSize": 19, "labelPadding": 1, "title": "Decay Times (µs)", "titleFontSize": 23, "titlePadding": 0}},
    "y": {"field": "y", "type": "quantitative", "scale": {"type": "log", "domain": [0.00105, 1.51], "nice": false}, "axis": {"values": [0.002,0.003,0.004,0.005,0.006,0.007,0.008,0.009,0.01,0.02,0.03,0.04,0.05,0.06,0.07,0.08,0.09,0.1,0.2,0.3,0.4,0.5,0.6,0.7,0.8,0.9,1], "labelExpr": "datum.value === 1 ? '1' : datum.value === 0.1 ? '0.1' : datum.value === 0.01 ? '0.01' : ''", "tickSize": {"condition": {"test": "datum.value === 1 || datum.value === 0.1 || datum.value === 0.01", "value": 7}, "value": 4}, "labelFontSize": 20, "labelPadding": 1, "title": null}}
  },
  "layer": [
    {"data": {"name": "cR"}, "mark": {"type": "point", "shape": "circle", "filled": false, "color": "#ff0000", "size": 22, "strokeWidth": 1, "opacity": 1, "clip": true}, "encoding": {}},
    {"data": {"name": "cB"}, "mark": {"type": "point", "shape": "circle", "filled": false, "color": "black", "size": 22, "strokeWidth": 1, "opacity": 1, "clip": true}, "encoding": {}},
    {"data": {"name": "cFit"}, "mark": {"type": "line", "color": "#0000ff", "strokeWidth": 1.6, "interpolate": "monotone", "clip": true}, "encoding": {"detail": {"field": "s"}}},
    {"data": {"name": "cT"}, "transform": [{"filter": "datum.k === 'la' || datum.k === 'ta'"}], "mark": {"type": "text", "align": "left", "baseline": "alphabetic", "font": "Liberation Serif", "fontWeight": "bold", "fontSize": 18, "color": "black"}, "encoding": {"text": {"field": "a"}}},
    {"data": {"name": "cT"}, "transform": [{"filter": "datum.k === 'sy'"}], "mark": {"type": "text", "align": "left", "baseline": "alphabetic", "font": "Liberation Serif", "fontWeight": "bold", "fontSize": 15, "color": "black"}, "encoding": {"text": {"field": "a"}}},
    {"data": {"name": "cT"}, "transform": [{"filter": "datum.k === 'sy'"}], "mark": {"type": "text", "align": "left", "baseline": "alphabetic", "font": "Liberation Serif", "fontWeight": "bold", "fontSize": 9, "dx": 85, "dy": -8, "color": "black"}, "encoding": {"text": {"field": "b"}}},
    {"data": {"name": "cT"}, "transform": [{"filter": "datum.k === 'p'"}], "mark": {"type": "text", "align": "left", "baseline": "alphabetic", "font": "Liberation Sans", "fontWeight": "bold", "fontSize": 21, "color": "black"}, "encoding": {"text": {"field": "a"}}},
    {"data": {"name": "cT"}, "transform": [{"filter": "datum.k === 'ta'"}], "mark": {"type": "text", "align": "left", "baseline": "alphabetic", "font": "Liberation Serif", "fontWeight": "bold", "fontSize": 11, "dx": 10, "dy": 6, "color": "black"}, "encoding": {"text": {"field": "b"}}},
    {"data": {"name": "cT"}, "transform": [{"filter": "datum.k === 'ta'"}], "mark": {"type": "text", "align": "left", "baseline": "alphabetic", "font": "Liberation Serif", "fontWeight": "bold", "fontSize": 18, "dx": 20, "color": "black"}, "encoding": {"text": {"field": "c"}}},
    {"data": {"name": "cT"}, "transform": [{"filter": "datum.k === 'la'"}], "mark": {"type": "text", "align": "left", "baseline": "alphabetic", "font": "Liberation Serif", "fontWeight": "bold", "fontSize": 11, "dx": 11, "dy": 6, "color": "black"}, "encoding": {"text": {"field": "b"}}},
    {"data": {"name": "cT"}, "transform": [{"filter": "datum.k === 'la'"}], "mark": {"type": "text", "align": "left", "baseline": "alphabetic", "font": "Liberation Serif", "fontWeight": "bold", "fontSize": 18, "dx": 28, "color": "black"}, "encoding": {"text": {"field": "c"}}}
  ]
}
]
}
